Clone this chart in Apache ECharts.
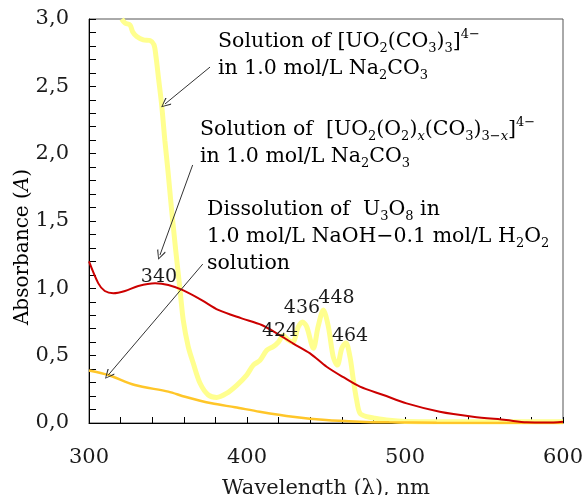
<!DOCTYPE html>
<html>
<head>
<meta charset="utf-8">
<script src="https://cdn.jsdelivr.net/npm/echarts@6/dist/echarts.min.js"></script>
<style>
  html, body { margin: 0; padding: 0; background: #fff; }
  #chart { width: 585px; height: 495px; }
</style>
</head>
<body>
<div id="chart"></div>
<script>
// 读图得到的数据
const carbWl = [320.7, 322.8, 326, 327.6, 330.2, 334.4, 338.6, 341.1, 342.4, 343.9, 346, 348, 350, 352.3, 355, 357.6, 359.7, 362.8, 366, 370.3, 375.5, 380.8, 387, 393.5, 399.8, 404, 408.2, 412.5, 416.6, 419.8, 423, 426, 429, 432.5, 435.2, 437.8, 442, 445, 448.3, 451.5, 454.6, 457.2, 460, 462.6, 465.2, 467.3, 469.4, 471.5, 475.8, 481, 490, 500, 530, 560, 600];
const carbAbs = [3.0, 2.97, 2.955, 2.905, 2.87, 2.845, 2.84, 2.81, 2.72, 2.57, 2.36, 2.1, 1.87, 1.58, 1.27, 0.99, 0.76, 0.567, 0.443, 0.295, 0.208, 0.19, 0.22, 0.28, 0.356, 0.43, 0.465, 0.54, 0.567, 0.6, 0.65, 0.616, 0.6, 0.715, 0.75, 0.715, 0.555, 0.715, 0.84, 0.715, 0.49, 0.43, 0.555, 0.596, 0.49, 0.32, 0.17, 0.072, 0.047, 0.035, 0.02, 0.012, 0.01, 0.01, 0.01];

const perWl = [300, 305.9, 310, 315.4, 322.8, 331.2, 341.8, 350.2, 358.7, 371.3, 381.8, 396.6, 409.3, 418.8, 429.3, 439.9, 450.4, 461, 471.5, 486.3, 501, 522, 543, 564, 577, 590, 600];
const perAbs = [1.2, 1.037, 0.98, 0.963, 0.98, 1.017, 1.037, 1.025, 0.99, 0.913, 0.84, 0.777, 0.728, 0.666, 0.59, 0.517, 0.418, 0.34, 0.27, 0.208, 0.146, 0.084, 0.047, 0.022, 0.005, 0.003, 0.01];

const oxWl = [300, 312.2, 329, 350.2, 360.8, 377.6, 392.4, 408, 429, 450, 471.5, 490, 520, 600];
const oxAbs = [0.39, 0.356, 0.282, 0.233, 0.195, 0.146, 0.117, 0.084, 0.047, 0.022, 0.01, 0.005, 0.002, 0.0];

// 峰值标注: [标签, 波长, 吸光度]
const peakLabels = [['340', 344.3, 1.08], ['424', 420.9, 0.68], ['436', 434.8, 0.85], ['448', 456.6, 0.925], ['464', 465.2, 0.645]];

// 箭头: [起点, 终点]
const arrows = [
  [[376.6, 2.643], [348.1, 2.369]],
  [[365.6, 1.916], [344.9, 1.247]],
  [[372.0, 1.18], [312.2, 0.356]]
];

const FONT = 'DejaVu Serif';
const TXT = '#1a1a1a';

function pairs(xs, ys) {
  return xs.map((x, i) => [x, ys[i]]);
}

const rich = {
  t: {fontSize: 20.5, lineHeight: 27, fontFamily: FONT, color: TXT},
  s: {fontSize: 13, lineHeight: 15, fontFamily: FONT, color: TXT, verticalAlign: 'bottom'},
  si: {fontSize: 13, lineHeight: 15, fontFamily: FONT, color: TXT, verticalAlign: 'bottom', fontStyle: 'italic'},
  p: {fontSize: 13, lineHeight: 21, fontFamily: FONT, color: TXT, verticalAlign: 'top'}
};

const chart = echarts.init(document.getElementById('chart'));

const option = {
  animation: false,
  backgroundColor: '#fff',
  grid: {
    left: 89, right: 22, top: 19, bottom: 72,
    outerBoundsMode: 'none',
    show: true, borderColor: '#555', borderWidth: 1
  },
  xAxis: {
    type: 'value',
    min: 300,
    max: 600,
    interval: 100,
    name: 'Wavelength (λ), nm',
    nameLocation: 'middle',
    nameGap: 55,
    nameTextStyle: {fontFamily: FONT, fontSize: 21, color: TXT},
    axisLine: {lineStyle: {color: '#000', width: 1}},
    axisTick: {inside: true, length: 6, lineStyle: {color: '#000'}},
    minorTick: {show: true, splitNumber: 5, length: 6, lineStyle: {color: '#000'}},
    splitLine: {show: false},
    axisLabel: {fontFamily: FONT, fontSize: 21, color: TXT, margin: 24}
  },
  yAxis: {
    type: 'value',
    min: 0,
    max: 3,
    interval: 0.5,
    axisLine: {show: true, lineStyle: {color: '#000', width: 1}},
    axisTick: {show: true, inside: true, length: 7, lineStyle: {color: '#000'}},
    minorTick: {show: true, splitNumber: 5, length: 7, lineStyle: {color: '#000'}},
    splitLine: {show: false},
    axisLabel: {
      fontFamily: FONT, fontSize: 21, color: TXT, margin: 20,
      formatter: v => v.toFixed(1).replace('.', ',')
    }
  },
  graphic: [
    {
      type: 'text', x: 23, y: 247, rotation: Math.PI / 2,
      style: {
        text: '{t|Absorbance (}{i|A}{t|)}',
        rich: {
          t: {fontSize: 20, fontFamily: FONT, color: TXT},
          i: {fontSize: 20, fontFamily: FONT, color: TXT, fontStyle: 'italic'}
        },
        align: 'center', verticalAlign: 'middle'
      }
    },
    {
      type: 'text', left: 218, top: 28,
      style: {
        text: '{t|Solution of [UO}{s|2}{t|(CO}{s|3}{t|)}{s|3}{t|]}{p|4−}\n{t|in 1.0 mol/L Na}{s|2}{t|CO}{s|3}',
        rich: rich
      }
    },
    {
      type: 'text', left: 200, top: 116,
      style: {
        text: '{t|Solution of  [UO}{s|2}{t|(O}{s|2}{t|)}{si|x}{t|(CO}{s|3}{t|)}{s|3−}{si|x}{t|]}{p|4−}\n{t|in 1.0 mol/L Na}{s|2}{t|CO}{s|3}',
        rich: rich
      }
    },
    {
      type: 'text', left: 207, top: 199,
      style: {
        text: '{t|Dissolution of  U}{s|3}{t|O}{s|8}{t| in}\n{t|1.0 mol/L NaOH−0.1 mol/L H}{s|2}{t|O}{s|2}\n{t|solution}',
        rich: rich
      }
    }
  ],
  series: [
    {
      name: 'carbonate',
      type: 'line',
      data: pairs(carbWl, carbAbs),
      showSymbol: false,
      smooth: 0.3,
      lineStyle: {color: '#ffff8f', width: 5},
      markPoint: {
        symbol: 'circle',
        symbolSize: 0,
        label: {show: true, position: 'inside', fontFamily: FONT, fontSize: 19, color: TXT, formatter: p => p.name},
        data: peakLabels.slice(1).map(p => ({name: p[0], coord: [p[1], p[2]]}))
      }
    },
    {
      name: 'dissolution',
      type: 'line',
      data: pairs(oxWl, oxAbs),
      showSymbol: false,
      smooth: 0.3,
      lineStyle: {color: '#ffc629', width: 2.5},
      markLine: {
        silent: true,
        symbol: ['none', 'path://M5,0L10,10L9,11L5,2L1,11L0,10Z'],
        symbolSize: [9, 10],
        lineStyle: {color: '#333', width: 1, type: 'solid'},
        label: {show: false},
        data: arrows.map(a => [{coord: a[0]}, {coord: a[1]}])
      }
    },
    {
      name: 'peroxide',
      type: 'line',
      data: pairs(perWl, perAbs),
      showSymbol: false,
      smooth: 0.3,
      lineStyle: {color: '#cc0000', width: 2},
      markPoint: {
        symbol: 'circle',
        symbolSize: 0,
        label: {show: true, position: 'inside', fontFamily: FONT, fontSize: 19, color: TXT, formatter: p => p.name},
        data: peakLabels.slice(0, 1).map(p => ({name: p[0], coord: [p[1], p[2]]}))
      }
    }
  ]
};

chart.setOption(option);
</script>
</body>
</html>
